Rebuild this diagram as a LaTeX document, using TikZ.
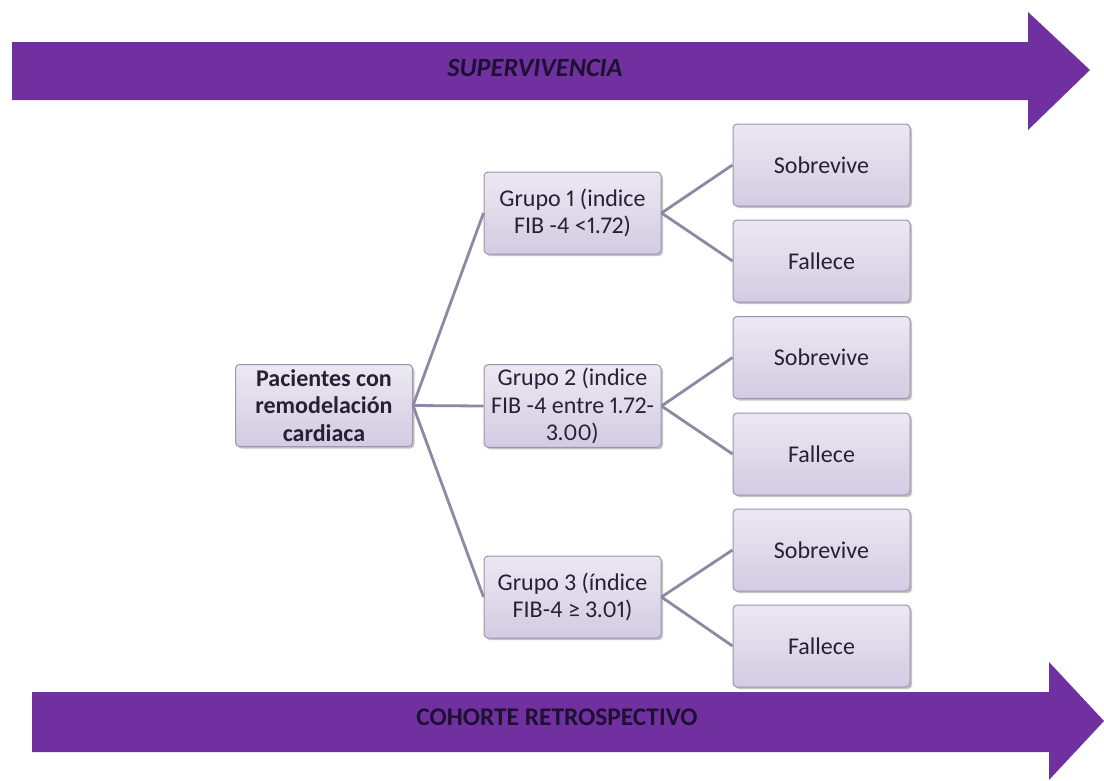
\documentclass[tikz,border=0pt]{standalone}
\usepackage{fontspec}
\setmainfont[Numbers=Proportional]{Carlito}
\usetikzlibrary{shadows}
\definecolor{arrowpurple}{HTML}{7030A0}
\definecolor{boxtop}{HTML}{ECE8F2}
\definecolor{boxbot}{HTML}{D3CBE3}
\definecolor{boxline}{HTML}{9C96AA}
\definecolor{linkcol}{HTML}{8E88A4}
\definecolor{txtdark}{HTML}{262033}
\definecolor{arrowtxt}{HTML}{1E1030}
\tikzset{
  box/.style={rectangle, rounded corners=4pt, draw=boxline, line width=1pt,
    top color=boxtop, bottom color=boxbot, minimum width=177pt, minimum height=82pt,
    inner xsep=2pt, align=center, font=\fontsize{24}{27.5}\selectfont, text=txtdark,
    drop shadow={shadow xshift=2pt, shadow yshift=-2pt, fill=black!45, opacity=0.5}},
  link/.style={draw=linkcol, line width=2.8pt},
  bigarrow/.style={fill=arrowpurple, draw=none},
  arrowtext/.style={text=arrowtxt, inner sep=0pt}
}
\begin{document}
\begin{tikzpicture}[x=1pt,y=-1pt]
\useasboundingbox (0,0) rectangle (1104,780);
\fill[white] (0,0) rectangle (1104,780);
% top arrow
\fill[bigarrow] (12,42) -- (1028,42) -- (1028,12) -- (1090,70) -- (1028,130) -- (1028,100) -- (12,100) -- cycle;
\node[arrowtext, font=\bfseries\itshape\fontsize{26.3}{30}\selectfont] (sup) at (535,68) {SUPERVIVENCIA};
% bottom arrow
\fill[bigarrow] (32,692) -- (1049,692) -- (1049,662) -- (1104,721) -- (1049,780) -- (1049,752) -- (32,752) -- cycle;
\node[arrowtext, font=\bfseries\fontsize{25.4}{29}\selectfont] (coh) at (557,717) {COHORTE RETROSPECTIVO};
% boxes
\node[box, font=\bfseries\fontsize{24}{27.5}\selectfont] (pac) at (324,405.5) {Pacientes con\\remodelación\\cardiaca};
\node[box] (g1) at (572.5,213) {Grupo 1 (indice\\FIB -4 <1.72)};
\node[box] (g2) at (572.5,406) {Grupo 2 (indice\\FIB -4 entre 1.72-\\3.00)};
\node[box] (g3) at (572.5,597) {Grupo 3 (índice\\FIB-4 ≥ 3.01)};
\node[box] (s1) at (821.5,165) {Sobrevive};
\node[box] (f1) at (821.5,261) {Fallece};
\node[box] (s2) at (821.5,357.5) {Sobrevive};
\node[box] (f2) at (821.5,454) {Fallece};
\node[box] (s3) at (821.5,550) {Sobrevive};
\node[box] (f3) at (821.5,646) {Fallece};
% links
\draw[link] (pac.east) -- (g1.west);
\draw[link] (pac.east) -- (g2.west);
\draw[link] (pac.east) -- (g3.west);
\draw[link] (g1.east) -- (s1.west);
\draw[link] (g1.east) -- (f1.west);
\draw[link] (g2.east) -- (s2.west);
\draw[link] (g2.east) -- (f2.west);
\draw[link] (g3.east) -- (s3.west);
\draw[link] (g3.east) -- (f3.west);
\end{tikzpicture}
\end{document}
